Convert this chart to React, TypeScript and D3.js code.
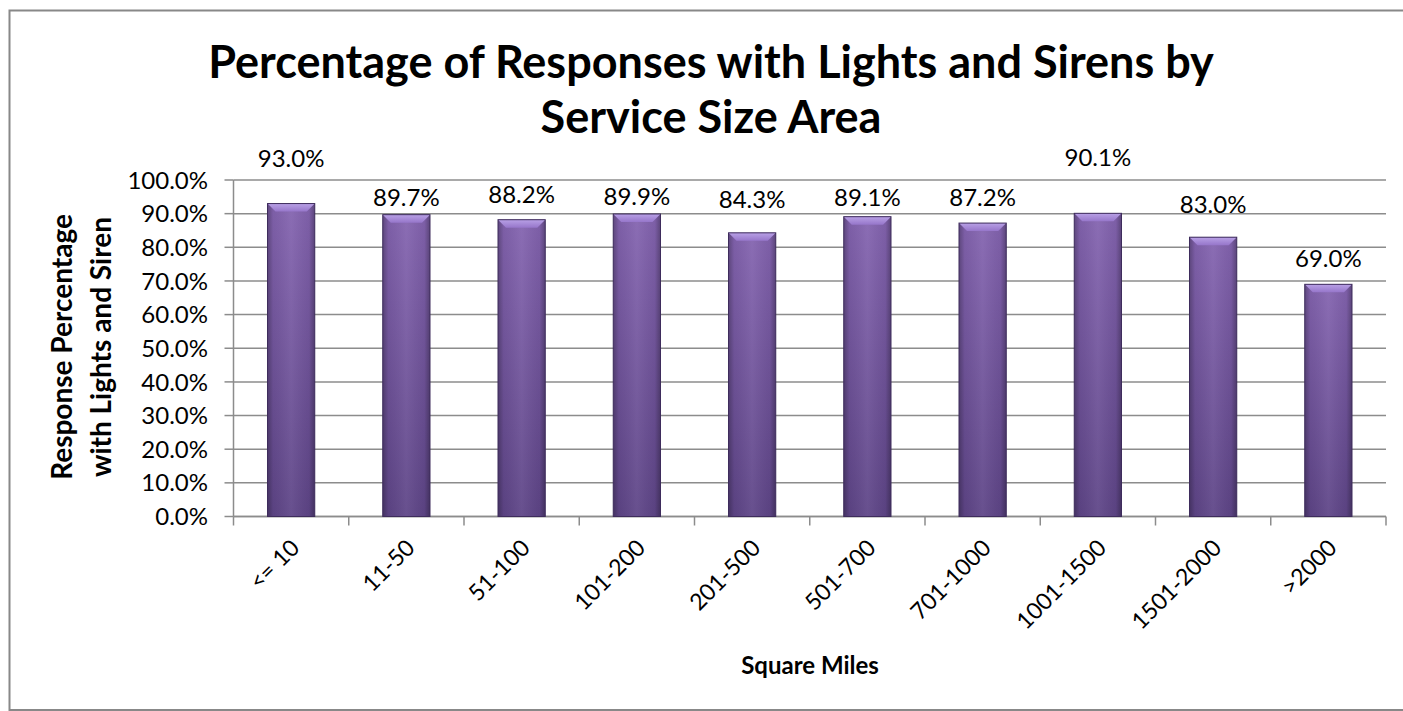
import React from "react";
import * as d3 from "d3";

const categories = ["<= 10", "11-50", "51-100", "101-200", "201-500", "501-700", "701-1000", "1001-1500", "1501-2000", ">2000"];
const values = [93.0, 89.7, 88.2, 89.9, 84.3, 89.1, 87.2, 90.1, 83.0, 69.0];
// where each data label sits, in axis units (labels were moved by hand in the original)
const labelAt = [106.5, 94.9, 95.7, 95.1, 94.2, 94.9, 94.9, 106.8, 92.7, 76.7];
const yTicks = [0, 10, 20, 30, 40, 50, 60, 70, 80, 90, 100];
const titleLines = ["Percentage of Responses with Lights and Sirens by", "Service Size Area"];
const yTitleLines = ["Response Percentage", "with Lights and Siren"];
const xTitle = "Square Miles";

const W = 1403;
const H = 711;
const FONT = "Lato, 'Open Sans', sans-serif";

export default function App() {
  const plotLeft = 233.5;
  const plotRight = 1386;
  const plotTop = 180;
  const plotBottom = 516.5;

  const x = d3.scaleBand<string>().domain(categories).range([plotLeft, plotRight]).padding(0);
  const y = d3.scaleLinear().domain([0, 100]).range([plotBottom, plotTop]);
  const barW = x.bandwidth() * 0.41;
  const bev = 8;
  const fmt = (v: number) => d3.format(".1f")(v) + "%";

  const boundaries = d3.range(categories.length + 1).map((i) => plotLeft + i * x.step());

  return (
    <div style={{ position: "fixed", left: 0, top: 0, width: W, height: H, background: "#fff" }}>
      <svg width={W} height={H} style={{ display: "block" }}>
        <defs>
          <linearGradient id="barV" x1="0" y1="0" x2="0" y2="1">
            <stop offset="0" stopColor="#8464b0" />
            <stop offset="1" stopColor="#5e4587" />
          </linearGradient>
          <linearGradient id="barH" x1="0" y1="0" x2="1" y2="0">
            <stop offset="0" stopColor="#000" stopOpacity="0.28" />
            <stop offset="0.12" stopColor="#000" stopOpacity="0.05" />
            <stop offset="0.5" stopColor="#fff" stopOpacity="0.06" />
            <stop offset="0.88" stopColor="#000" stopOpacity="0.05" />
            <stop offset="1" stopColor="#000" stopOpacity="0.3" />
          </linearGradient>
          <linearGradient id="bevTop" x1="0" y1="0" x2="0" y2="1">
            <stop offset="0" stopColor="#b9a1e6" />
            <stop offset="1" stopColor="#9676ca" />
          </linearGradient>
        </defs>

        <rect x={9.5} y={10.5} width={1403} height={699.5} fill="#fff" stroke="#888" strokeWidth={2} />

        {/* title */}
        <g fontFamily={FONT} fontWeight="bold" fontSize={45} fill="#000" textAnchor="middle">
          <text x={711} y={78}>{titleLines[0]}</text>
          <text x={711} y={133}>{titleLines[1]}</text>
        </g>

        {/* gridlines */}
        {yTicks.map((t) => (
          <line key={"g" + t} x1={plotLeft} x2={plotRight} y1={y(t)} y2={y(t)} stroke="#8c8c8c" strokeWidth={1.5} />
        ))}

        {/* y axis */}
        <line x1={plotLeft} x2={plotLeft} y1={plotTop} y2={plotBottom} stroke="#8c8c8c" strokeWidth={1.5} />
        {yTicks.map((t) => (
          <g key={"yt" + t}>
            <line x1={plotLeft - 9} x2={plotLeft} y1={y(t)} y2={y(t)} stroke="#8c8c8c" strokeWidth={1.5} />
            <text x={208} y={y(t)} dy="0.36em" textAnchor="end" fontFamily={FONT} fontSize={24} fill="#000">
              {fmt(t)}
            </text>
          </g>
        ))}

        {/* x axis */}
        <line x1={plotLeft} x2={plotRight} y1={plotBottom} y2={plotBottom} stroke="#8c8c8c" strokeWidth={1.5} />
        {boundaries.map((bx, i) => (
          <line key={"xt" + i} x1={bx} x2={bx} y1={plotBottom} y2={plotBottom + 9} stroke="#8c8c8c" strokeWidth={1.5} />
        ))}
        {categories.map((c) => {
          const cx = (x(c) as number) + x.bandwidth() / 2;
          return (
            <text
              key={"xl" + c}
              transform={`translate(${cx + 4},${plotBottom + 27}) rotate(-45)`}
              textAnchor="end"
              dy="0.35em"
              fontFamily={FONT}
              fontSize={23}
              fill="#000"
            >
              {c}
            </text>
          );
        })}

        {/* bars */}
        {categories.map((c, i) => {
          const cx = (x(c) as number) + x.bandwidth() / 2;
          const bx = cx - barW / 2;
          const by = y(values[i]);
          const bh = plotBottom - by;
          return (
            <g key={"b" + c}>
              <rect x={bx} y={by} width={barW} height={bh} fill="url(#barV)" />
              <rect x={bx} y={by} width={barW} height={bh} fill="url(#barH)" />
              <polygon
                points={`${bx},${by} ${bx + barW},${by} ${bx + barW - bev},${by + bev} ${bx + bev},${by + bev}`}
                fill="url(#bevTop)"
              />
              <rect x={bx} y={by} width={barW} height={bh} fill="none" stroke="#3e2c5c" strokeWidth={1} />
            </g>
          );
        })}

        {/* data labels */}
        {categories.map((c, i) => {
          const cx = (x(c) as number) + x.bandwidth() / 2;
          return (
            <text key={"dl" + c} x={cx} y={y(labelAt[i])} dy="0.36em" textAnchor="middle" fontFamily={FONT} fontSize={24} fill="#000">
              {fmt(values[i])}
            </text>
          );
        })}

        {/* axis titles */}
        <text x={810} y={666} dy="0.35em" textAnchor="middle" fontFamily={FONT} fontWeight="bold" fontSize={24} fill="#000">
          {xTitle}
        </text>
        <g transform="translate(62.5,347) rotate(-90)" fontFamily={FONT} fontWeight="bold" fontSize={28} fill="#000" textAnchor="middle">
          <text x={0} y={0} dy="0.35em">{yTitleLines[0]}</text>
          <text x={0} y={38.5} dy="0.35em">{yTitleLines[1]}</text>
        </g>
      </svg>
    </div>
  );
}
